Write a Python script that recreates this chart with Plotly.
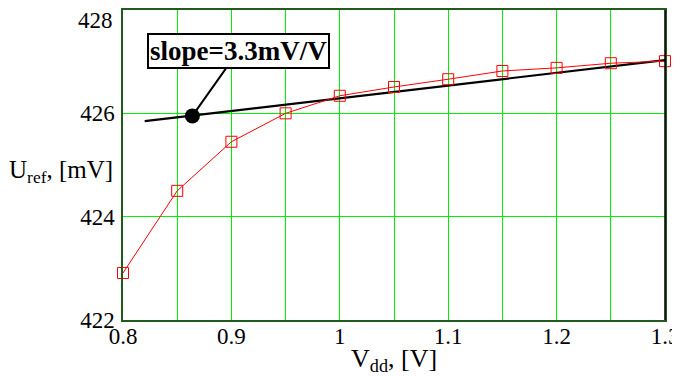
import plotly.graph_objects as go

vdd = [0.8, 0.85, 0.9, 0.95, 1.0, 1.05, 1.1, 1.15, 1.2, 1.25, 1.3]
uref = [422.91, 424.50, 425.45, 426.00, 426.34, 426.51, 426.66, 426.82, 426.88, 426.97, 427.01]

fit_x = [0.82, 1.3]
fit_y = [425.85, 427.03]

dot_x = [0.864]
dot_y = [425.95]

x_ticks = [0.8, 0.9, 1.0, 1.1, 1.2, 1.3]
x_tick_labels = ["0.8", "0.9", "1", "1.1", "1.2", "1.3"]
y_ticks = [422, 424, 426, 428]
y_tick_labels = ["422", "424", "426", ""]
top_label = "428"

FONT = "Liberation Serif, Times New Roman, serif"
GRID = "#00f000"
AXIS = "#1f5a1f"

fig = go.Figure()
fig.add_trace(go.Scatter(x=fit_x, y=fit_y, mode="lines",
                         line=dict(color="black", width=2.2), showlegend=False))
fig.add_trace(go.Scatter(x=vdd, y=uref, mode="lines+markers",
                         line=dict(color="red", width=1),
                         marker=dict(symbol="square-open", size=11, color="red", line=dict(width=1)),
                         showlegend=False, cliponaxis=False))
fig.add_trace(go.Scatter(x=dot_x, y=dot_y, mode="markers",
                         marker=dict(color="black", size=15), showlegend=False))

fig.add_annotation(x=dot_x[0], y=dot_y[0], xref="x", yref="y",
                   text="<b>slope=3.3mV/V</b>", showarrow=True, arrowhead=0,
                   arrowwidth=2, arrowcolor="black", ax=46, ay=-65,
                   font=dict(family=FONT, size=27, color="black"),
                   bgcolor="white", bordercolor="black", borderwidth=2, borderpad=1)

# top y tick label, nudged inward as in the reference
fig.add_annotation(x=0, y=y_ticks[-1], xref="paper", yref="y", xanchor="right", yanchor="middle",
                   xshift=-8, yshift=-10, text=top_label, showarrow=False,
                   font=dict(family=FONT, size=23, color="black"))

fig.add_annotation(x=-0.015, y=0.48, xref="paper", yref="paper", xanchor="right", yanchor="middle",
                   text="U<sub>ref</sub>, [mV]", showarrow=False,
                   font=dict(family=FONT, size=25, color="black"))

fig.add_annotation(x=0.5, y=-0.13, xref="paper", yref="paper", xanchor="center", yanchor="middle",
                   text="V<sub>dd</sub>, [V]", showarrow=False,
                   font=dict(family=FONT, size=26, color="black"))

fig.add_shape(type="line", xref="paper", yref="paper", x0=1, x1=1, y0=0, y1=1,
              line=dict(color="black", width=1.5))

fig.update_layout(
    width=680, height=380,
    margin=dict(l=115, r=23, t=2, b=68),
    paper_bgcolor="white", plot_bgcolor="white",
    font=dict(family=FONT, size=23, color="black"),
    xaxis=dict(range=[0.8, 1.3], tickvals=x_ticks, ticktext=x_tick_labels,
               showgrid=True, gridcolor=GRID, gridwidth=1,
               minor=dict(dtick=0.05, tick0=0.8, showgrid=True, gridcolor=GRID, gridwidth=1),
               showline=True, linecolor=AXIS, linewidth=1.5, mirror=True,
               zeroline=False, ticks="", automargin=False, ticklabelstandoff=-5),
    yaxis=dict(range=[422, 428], tickvals=y_ticks, ticktext=y_tick_labels,
               showgrid=True, gridcolor=GRID, gridwidth=1,
               showline=True, linecolor=AXIS, linewidth=1.5, mirror=True,
               zeroline=False, ticks="", automargin=False, ticklabelstandoff=2),
)

fig.write_html("out.html")
